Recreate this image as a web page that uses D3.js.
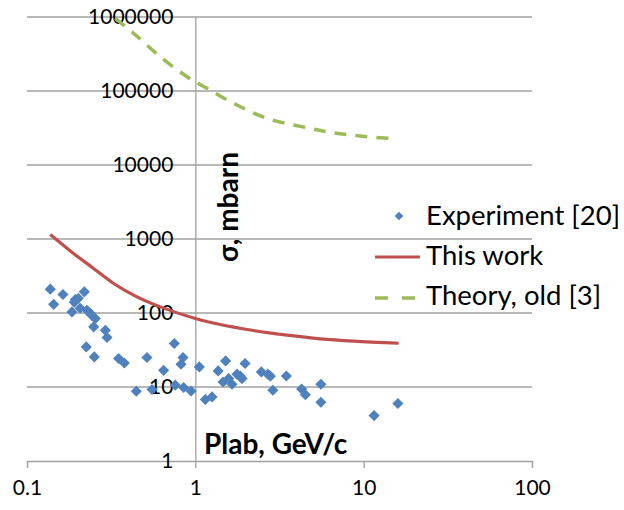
<!DOCTYPE html>
<html>
<head>
<meta charset="utf-8">
<script src="https://cdn.jsdelivr.net/npm/d3@7"></script>
<style>
    body { margin: 0; background: #fff; }
    svg text { font-family: Lato, "Open Sans", sans-serif; fill: #000; }
    .grid { stroke: #a0a0a0; stroke-width: 1.3; }
</style>
</head>
<body>
<div id="canvas-svg"></div>
<script>
// Experiment [20]
var expX = [0.1375, 0.144, 0.1636, 0.219, 0.185, 0.191, 0.1936, 0.2018, 0.207, 0.227, 0.2377, 0.243, 0.2545, 0.249,
            0.292, 0.2988, 0.225, 0.251, 0.35, 0.3786, 0.516, 0.446, 0.553, 0.648, 0.750, 0.845, 0.822, 0.760,
            0.852, 0.943, 1.056, 1.147, 1.257, 1.366, 1.514, 1.461, 1.577, 1.652, 1.769, 1.851, 1.894, 1.974,
            2.467, 2.697, 2.79, 2.887, 3.473, 4.28, 4.504, 5.57, 5.57, 11.53, 15.97];
var expY = [210, 131, 178, 193, 103.5, 140, 152, 158, 116, 109, 98.5, 93, 84, 65,
            58.5, 46.6, 34.8, 25.5, 24.3, 21.1, 25.0, 8.76, 9.24, 16.8, 38.7, 25.0, 20.3, 10.6,
            9.83, 8.84, 18.7, 6.77, 7.34, 16.5, 22.5, 11.7, 13.0, 10.9, 14.9, 14.0, 13.0, 20.8,
            16.0, 14.9, 14.0, 9.04, 14.1, 9.41, 7.86, 10.9, 6.22, 4.11, 5.98];

// This work
var workX = [0.1375, 0.1891, 0.2487, 0.327, 0.4503, 0.6194, 1.0, 1.408, 2.221, 3.507, 5.53, 8.72, 16.15];
var workY = [1152, 638, 400, 250.6, 165, 121, 84.3, 69.9, 58.0, 50.1, 44.7, 41.6, 39.0];

// Theory, old [3]
var oldX = [0.3347, 0.43, 0.619, 0.893, 1.173, 1.689, 2.667, 4.82, 6.63, 9.55, 14.08];
var oldY = [960000, 602000, 290000, 156000, 108600, 68100, 42700, 31260, 27240, 24600, 22900];

var xTicks = [0.1, 1, 10, 100];
var yTicks = [1, 10, 100, 1000, 10000, 100000, 1000000];
var legendLabels = ["Experiment [20]", "This work", "Theory, old [3]"];

var width = 624, height = 510;
var blue = "#4f81bd", red = "#c0504d", green = "#9bbb59";

var svg = d3.select("#canvas-svg").append("svg")
    .attr("width", width)
    .attr("height", height);

var x = d3.scaleLog().domain([0.1, 100]).range([27, 532]);
var y = d3.scaleLog().domain([1, 1000000]).range([461, 17]);

// horizontal grid
svg.append("g").selectAll("line")
    .data(yTicks.slice(1))
    .enter().append("line")
    .attr("class", "grid")
    .attr("x1", x(0.1)).attr("x2", x(100))
    .attr("y1", function(d) { return y(d); })
    .attr("y2", function(d) { return y(d); });

// x axis at y=1
var xAxis = d3.axisBottom(x).tickValues(xTicks).tickSize(7)
    .tickFormat(function(d) { return d3.format("~g")(d); });
var gx = svg.append("g")
    .attr("transform", "translate(0," + y(1) + ")")
    .call(xAxis);
gx.select(".domain").attr("stroke", "#a0a0a0").attr("stroke-width", 1.3);
gx.selectAll(".tick line").attr("stroke", "#a0a0a0").attr("stroke-width", 1.3);
gx.selectAll(".tick text").attr("font-size", 21).attr("dy", 0).attr("y", 34)
    .style("font-family", "Lato, sans-serif");

// y axis crossing at x=1
var yAxis = d3.axisLeft(y).tickValues(yTicks).tickSize(0).tickPadding(22)
    .tickFormat(d3.format("d"));
var gy = svg.append("g")
    .attr("transform", "translate(" + x(1) + ",0)")
    .call(yAxis);
gy.select(".domain").attr("stroke", "#a0a0a0").attr("stroke-width", 1.3);
gy.selectAll(".tick text").attr("font-size", 21)
    .style("font-family", "Lato, sans-serif");

// axis titles
svg.append("text")
    .attr("transform", "translate(238,207) rotate(-90)")
    .attr("text-anchor", "middle")
    .attr("font-size", 28)
    .attr("font-weight", "bold")
    .text("σ, mbarn");

svg.append("text")
    .attr("x", 204).attr("y", 454)
    .attr("font-size", 28)
    .attr("font-weight", "bold")
    .text("Plab, GeV/c");

var line = d3.line()
    .x(function(d) { return x(d[0]); })
    .y(function(d) { return y(d[1]); })
    .curve(d3.curveCatmullRom.alpha(0.5));

svg.append("path")
    .datum(d3.zip(oldX, oldY))
    .attr("d", line)
    .attr("fill", "none")
    .attr("stroke", green)
    .attr("stroke-width", 3.5)
    .attr("stroke-dasharray", "12,9");

svg.append("path")
    .datum(d3.zip(workX, workY))
    .attr("d", line)
    .attr("fill", "none")
    .attr("stroke", red)
    .attr("stroke-width", 3.2);

var diamond = d3.symbol().type(d3.symbolSquare).size(62);

svg.append("g").selectAll("path")
    .data(d3.zip(expX, expY))
    .enter().append("path")
    .attr("d", diamond)
    .attr("fill", blue)
    .attr("transform", function(d) {
        return "translate(" + x(d[0]) + "," + y(d[1]) + ") rotate(45)";
    });

// legend
var leg = svg.append("g");
leg.append("path")
    .attr("d", d3.symbol().type(d3.symbolSquare).size(38))
    .attr("fill", blue)
    .attr("transform", "translate(399,216) rotate(45)");
leg.append("line")
    .attr("x1", 375).attr("x2", 420).attr("y1", 257).attr("y2", 257)
    .attr("stroke", red).attr("stroke-width", 3.2);
leg.append("line")
    .attr("x1", 375).attr("x2", 418).attr("y1", 298).attr("y2", 298)
    .attr("stroke", green).attr("stroke-width", 3.5)
    .attr("stroke-dasharray", "13,14");

leg.selectAll("text")
    .data(legendLabels)
    .enter().append("text")
    .attr("x", 426)
    .attr("y", function(d, i) { return 225 + i * 40; })
    .attr("font-size", 27.5)
    .text(function(d) { return d; });
</script>
</body>
</html>
